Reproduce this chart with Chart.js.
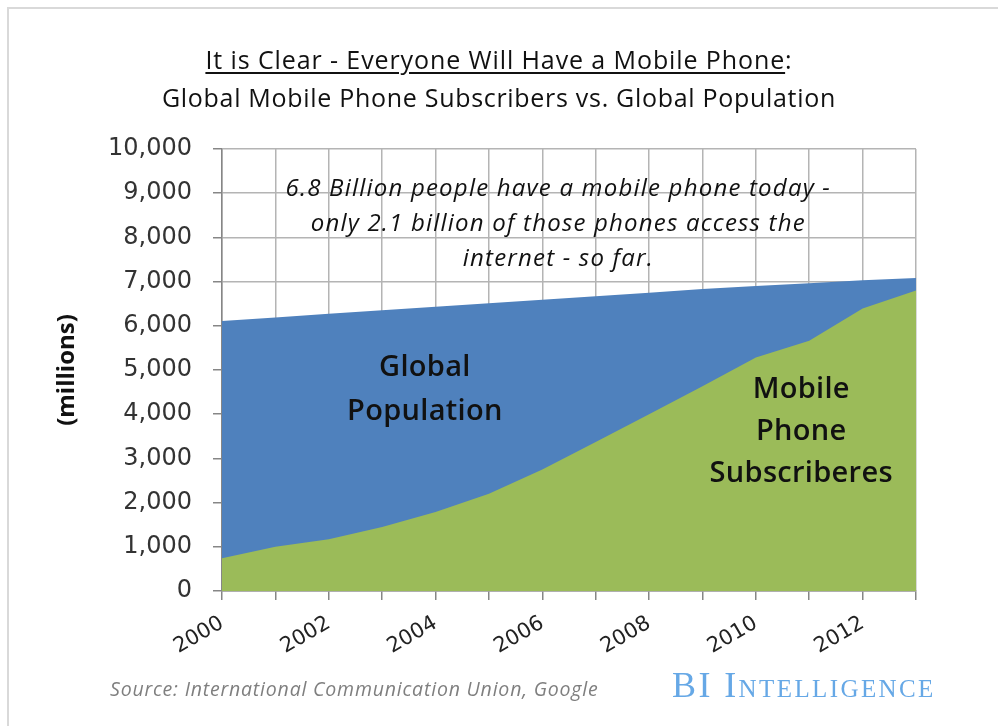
<!DOCTYPE html>
<html>
<head>
<meta charset="utf-8">
<script src="https://cdn.jsdelivr.net/npm/chart.js@4/dist/chart.umd.min.js"></script>
<style>
  html, body { margin: 0; padding: 0; background: #fff; }
  #wrap { position: relative; width: 998px; height: 726px; overflow: hidden; }
  #frame { position: absolute; left: 7px; top: 7px; width: 1000px; height: 740px;
           border-left: 2px solid #d9d9d9; border-top: 2px solid #d9d9d9; }
  #chart { position: absolute; left: 0; top: 0; }
  .title { position: absolute; left: 0; width: 998px; text-align: center;
           font-family: "Open Sans", sans-serif; font-size: 25px; font-weight: 500;
           color: #111; letter-spacing: 0.7px; }
  #t1 { top: 42px; letter-spacing: 0.9px; }
  #t1 u { text-decoration-thickness: 2px; text-underline-offset: 3px; }
  #t2 { top: 80px; }
  #source { position: absolute; left: 110px; top: 675px; font-family: "Open Sans", sans-serif;
            font-style: italic; font-size: 19.5px; color: #7f7f7f; letter-spacing: 0.8px; }
  #brand { position: absolute; left: 672px; top: 664px; font-family: "Liberation Serif", serif;
           font-variant: small-caps; font-size: 36px; color: #66a8e6; letter-spacing: 2.4px; }
</style>
</head>
<body>
<div id="wrap">
  <div id="frame"></div>
  <canvas id="chart" width="998" height="726"></canvas>
  <div class="title" id="t1"><u>It is Clear - Everyone Will Have a Mobile Phone</u>:</div>
  <div class="title" id="t2">Global Mobile Phone Subscribers vs. Global Population</div>
  <div id="source">Source: International Communication Union, Google</div>
  <div id="brand">BI Intelligence</div>
</div>
<script>
// years on the x axis, values in millions
const years = ['2000', '2001', '2002', '2003', '2004', '2005', '2006',
               '2007', '2008', '2009', '2010', '2011', '2012', '2013'];
const mobileSubscribers = [740, 1000, 1170, 1450, 1790, 2200, 2750,
                           3370, 4000, 4630, 5280, 5660, 6390, 6800];
const globalPopulation = [6110, 6190, 6270, 6350, 6430, 6510, 6590,
                          6670, 6750, 6830, 6900, 6960, 7030, 7080];
const yTicks = [0, 1000, 2000, 3000, 4000, 5000, 6000, 7000, 8000, 9000, 10000];

// text labels placed inside the plot, anchored to category index / value
const areaNotes = [
  { lines: ['Global', 'Population'], at: [3.8, 5050], font: '600 29px "Open Sans"', gap: 44, spacing: '0.3px' },
  { lines: ['Mobile', 'Phone', 'Subscriberes'], at: [10.85, 4550], font: '600 29px "Open Sans"', gap: 42, spacing: '0.3px' },
  { lines: ['6.8 Billion people have a mobile phone today -',
            'only 2.1 billion of those phones access the',
            'internet - so far.'], at: [6.3, 9100], font: 'italic 24px "Open Sans"', gap: 35, spacing: '1.2px' }
];

const notesPlugin = {
  id: 'areaNotes',
  afterDatasetsDraw(chart) {
    const { ctx, scales: { x, y } } = chart;
    ctx.save();
    ctx.fillStyle = '#111';
    ctx.textAlign = 'center';
    ctx.textBaseline = 'middle';
    areaNotes.forEach(note => {
      ctx.font = note.font;
      ctx.letterSpacing = note.spacing;
      const cx = x.getPixelForValue(note.at[0]);
      const cy = y.getPixelForValue(note.at[1]);
      note.lines.forEach((line, i) => ctx.fillText(line, cx, cy + i * note.gap));
    });
    ctx.restore();
  }
};

new Chart(document.getElementById('chart'), {
  type: 'line',
  data: {
    labels: years,
    datasets: [
      {
        label: 'Mobile Phone Subscribers',
        data: mobileSubscribers,
        backgroundColor: '#9bbb59',
        borderWidth: 0,
        pointRadius: 0,
        fill: 'origin',
        tension: 0
      },
      {
        label: 'Global Population',
        data: globalPopulation,
        backgroundColor: '#4f81bd',
        borderWidth: 0,
        pointRadius: 0,
        fill: 'origin',
        tension: 0
      }
    ]
  },
  options: {
    responsive: false,
    animation: false,
    layout: { padding: { left: 0, top: 149, right: 82, bottom: 0 } },
    plugins: {
      legend: { display: false },
      tooltip: { enabled: false },
      title: { display: false }
    },
    scales: {
      x: {
        offset: false,
        afterFit(scale) { scale.height = 135; },
        grid: { color: '#b4b4b4', lineWidth: 1.5, tickLength: 9, tickColor: '#868686' },
        border: { color: '#868686', width: 1.5 },
        ticks: {
          autoSkip: false,
          minRotation: 30,
          maxRotation: 30,
          padding: 11,
          color: '#222',
          font: { family: '"DejaVu Sans"', size: 21 },
          callback: (v, i) => (i % 2 === 0 ? years[i] : '')
        }
      },
      y: {
        min: 0,
        max: 10000,
        afterFit(scale) { scale.width = 222; },
        afterBuildTicks(scale) { scale.ticks = yTicks.map(v => ({ value: v })); },
        grid: { color: '#b4b4b4', lineWidth: 1.5, tickLength: 9, tickColor: '#868686' },
        border: { color: '#868686', width: 1.5 },
        ticks: {
          padding: 21,
          color: '#333',
          font: { family: '"DejaVu Sans"', size: 24 },
          callback: v => v.toLocaleString('en-US')
        },
        title: {
          display: true,
          text: '(millions)',
          color: '#111',
          font: { family: '"Open Sans"', size: 24, weight: 'bold' },
          padding: { top: 53, bottom: 0 }
        }
      }
    }
  },
  plugins: [notesPlugin]
});
</script>
</body>
</html>
